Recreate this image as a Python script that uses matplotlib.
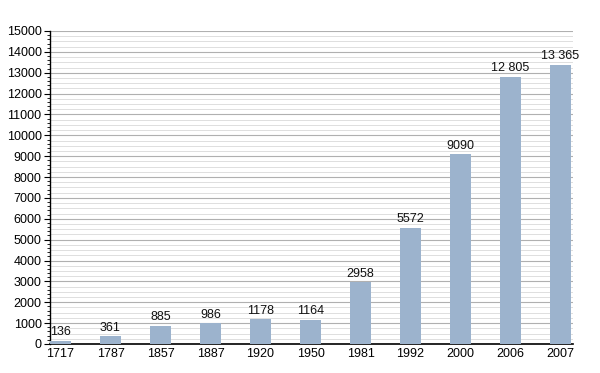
import numpy as np
import matplotlib.pyplot as plt
from matplotlib.ticker import MultipleLocator

years = ["1717", "1787", "1857", "1887", "1920", "1950", "1981", "1992", "2000", "2006", "2007"]
population = [136, 361, 885, 986, 1178, 1164, 2958, 5572, 9090, 12805, 13365]
value_labels = ["136", "361", "885", "986", "1178", "1164", "2958", "5572", "9090", "12 805", "13 365"]

plt.rcParams["font.family"] = ["Liberation Sans", "DejaVu Sans"]

fig = plt.figure(figsize=(6.0, 3.73), dpi=100)
ax = fig.add_axes([50 / 600, 29 / 373, 523 / 600, 313 / 373])

x = np.arange(len(years))
ax.bar(x, population, width=0.42, color="#9cb3cd", zorder=3)

for xi, v, lab in zip(x, population, value_labels):
    ax.text(xi, v + 130, lab, ha="center", va="bottom", fontsize=9, color="#111111", zorder=4)

ax.set_xlim(-0.21, 10.25)
ax.set_ylim(0, 15000)
ax.set_xticks(x)
ax.set_xticklabels(years, fontsize=9)
ax.yaxis.set_major_locator(MultipleLocator(1000))
ax.yaxis.set_minor_locator(MultipleLocator(200))
ax.tick_params(axis="y", which="major", labelsize=9, length=4, width=0.8, direction="out", pad=2)
ax.tick_params(axis="y", which="minor", length=2.5, width=0.6, direction="out")
ax.tick_params(axis="x", length=0, pad=3)

# light grid every 250, darker every 1000
ax.hlines(np.arange(250, 15000, 250), -0.21, 10.25, colors="#dedede", linewidth=0.7, zorder=0)
ax.grid(axis="y", which="major", color="#b0b0b0", linewidth=0.8, zorder=1)

for side in ["top", "right"]:
    ax.spines[side].set_visible(False)
ax.spines["left"].set_linewidth(1.0)
ax.spines["bottom"].set_linewidth(1.2)

fig.savefig("out.png", dpi=100)
